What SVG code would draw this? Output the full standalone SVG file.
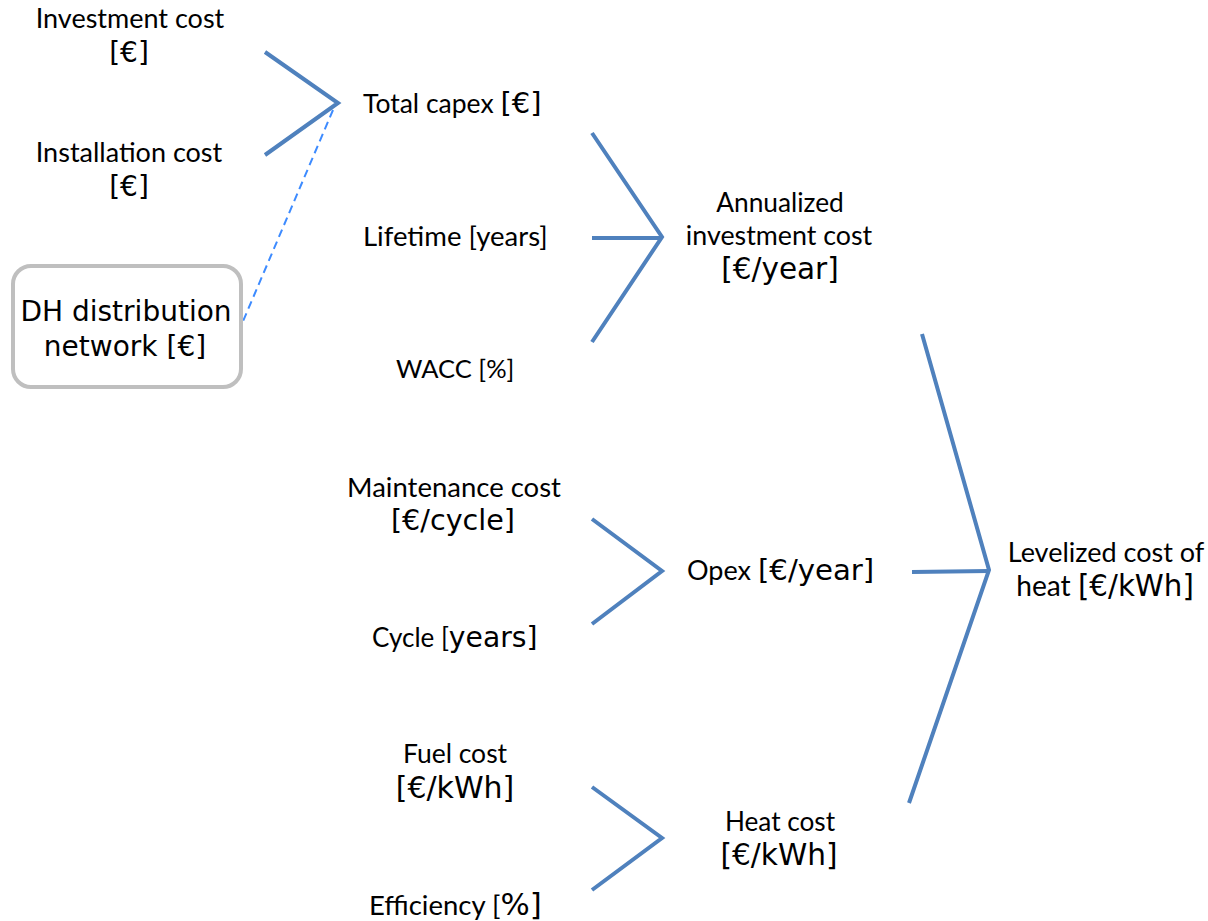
<svg xmlns="http://www.w3.org/2000/svg" width="1208" height="921" viewBox="0 0 1208 921">
<style>
.c{font-family:Lato,"Liberation Sans",sans-serif;font-size:24px;fill:#000}
.v{font-family:"DejaVu Sans",Verdana,sans-serif;font-size:27px}
.m{text-anchor:middle}
.ln{fill:none;stroke:#4f81bd;stroke-width:4;stroke-linecap:butt;stroke-linejoin:miter}
.dash{fill:none;stroke:#3d8bff;stroke-width:2;stroke-dasharray:8,5}
</style>
<rect width="1208" height="921" fill="#fff"/>
<g id="connectors">
<polyline class="ln" points="265,52 338,103 265,155"/>
<line class="dash" x1="333" y1="110" x2="241" y2="326"/>
<polyline class="ln" points="592,133 662,237 592,342"/>
<line class="ln" x1="592" y1="238" x2="662" y2="238"/>
<polyline class="ln" points="592,519 662,571 592,624"/>
<polyline class="ln" points="592,787 662,838 592,890"/>
<polyline class="ln" points="922,334 989,570 909,803"/>
<line class="ln" x1="912" y1="572" x2="989" y2="571"/>
</g>
<g id="investment-cost">
<text class="c m" x="130" y="28" style="font-size:27px">Investment cost</text>
<text class="c m v" x="129" y="62" style="font-size:28px">[€]</text>
</g>
<g id="installation-cost">
<text class="c m" x="129" y="162" style="font-size:27px">Installation cost</text>
<text class="c m v" x="129" y="196" style="font-size:28px">[€]</text>
</g>
<g id="dh-network">
<rect x="13" y="266" width="228" height="121" rx="18" fill="#fff" stroke="#bfbfbf" stroke-width="4"/>
<text class="c m v" x="126" y="321" style="font-size:28px">DH distribution</text>
<text class="c m v" x="125" y="356" style="font-size:28px">network [€]</text>
</g>
<g id="total-capex">
<text class="c" x="363" y="113" style="font-size:26.5px">Total capex <tspan class="v" style="font-size:29px">[€]</tspan></text>
</g>
<g id="lifetime">
<text class="c" x="363" y="246" style="font-size:27.5px">Lifetime [years]</text>
</g>
<g id="wacc">
<text class="c" x="396" y="378" style="font-size:25.5px">WACC [%]</text>
</g>
<g id="annualized">
<text class="c m" x="780" y="212" style="font-size:26.3px">Annualized</text>
<text class="c m" x="779" y="245" style="font-size:26.8px">investment cost</text>
<text class="c m v" x="780" y="279" style="font-size:29.5px">[€/year]</text>
</g>
<g id="maintenance">
<text class="c m" x="454" y="497" style="font-size:27.5px">Maintenance cost</text>
<text class="c m v" x="453" y="530" style="font-size:28.6px">[€/cycle]</text>
</g>
<g id="cycle">
<text class="c" x="372" y="647" style="font-size:26px">Cycle [<tspan class="v" style="font-size:28.2px">years]</tspan></text>
</g>
<g id="opex">
<text class="c" x="687" y="580" style="font-size:27px">Opex <tspan class="v" style="font-size:29.2px">[€/year]</tspan></text>
</g>
<g id="lcoh">
<text class="c m" x="1106" y="562" style="font-size:27px">Levelized cost of</text>
<text class="c m" x="1105" y="596" style="font-size:28.2px">heat <tspan class="v" style="font-size:29.3px">[€/kWh]</tspan></text>
</g>
<g id="fuel-cost">
<text class="c m" x="455" y="763" style="font-size:26.5px">Fuel cost</text>
<text class="c m v" x="455" y="798" style="font-size:30px">[€/kWh]</text>
</g>
<g id="heat-cost">
<text class="c m" x="780" y="831" style="font-size:26.2px">Heat cost</text>
<text class="c m v" x="779" y="865" style="font-size:29.6px">[€/kWh]</text>
</g>
<g id="efficiency">
<text class="c" x="369" y="915" style="font-size:27.5px">Efficiency [<tspan class="v" style="font-size:30.8px">%]</tspan></text>
</g>
</svg>
